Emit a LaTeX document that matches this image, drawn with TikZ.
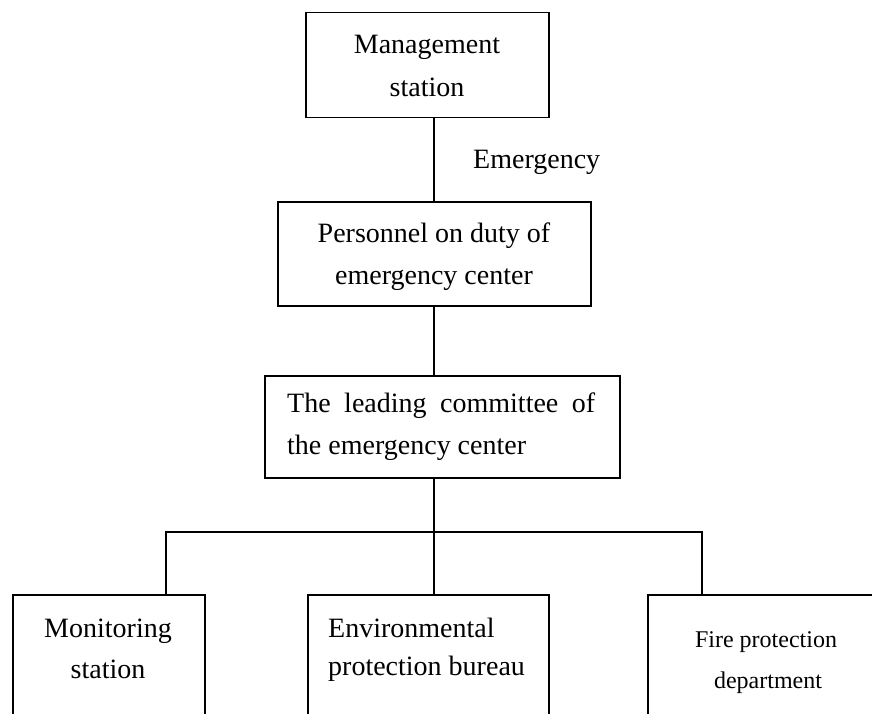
\documentclass[tikz,border=0pt]{standalone}
\usepackage{fontspec}
\setmainfont{Liberation Serif}
\begin{document}
\begin{tikzpicture}[x=1pt,y=-1pt,
  box/.style={draw, line width=1.5pt, rectangle, inner sep=0pt, anchor=north west},
  txt/.style={inner sep=0pt, anchor=base, font=\fontsize{28}{43}\selectfont},
  smalltxt/.style={inner sep=0pt, anchor=base, font=\fontsize{24}{41}\selectfont},
  conn/.style={line width=1.5pt}]
\useasboundingbox (0,0) rectangle (872,714);
\clip (0,0) rectangle (872,714);
% boxes
\node[box, minimum width=243pt, minimum height=105pt] (mgmt) at (305,12) {};
\node[box, minimum width=313pt, minimum height=104pt] (pers) at (277,201) {};
\node[box, minimum width=355pt, minimum height=102pt] (lead) at (264,375) {};
\node[box, minimum width=192pt, minimum height=170pt] (mon) at (12,594) {};
\node[box, minimum width=241pt, minimum height=170pt] (env) at (307,594) {};
\node[box, minimum width=240pt, minimum height=170pt] (fire) at (647,594) {};
% texts
\node[txt, align=center] (mgmtA) at (427,54) {Management};
\node[txt, align=center] (mgmtB) at (427,97) {station};
\node[txt, anchor=base west] (emer) at (473,168) {Emergency};
\node[txt] (persA) at (434,242) {Personnel on duty of};
\node[txt] (persB) at (434,284) {emergency center};
\node[txt, anchor=base west] (leadA) at (287,412) {\makebox[308pt][s]{The leading committee of}};
\node[txt, anchor=base west] (leadB) at (287,454) {the emergency center};
\node[txt] (monA) at (108,637) {Monitoring};
\node[txt] (monB) at (108,678) {station};
\node[txt, anchor=base west] (envA) at (328,637) {Environmental};
\node[txt, anchor=base west] (envB) at (328,675) {protection bureau};
\node[smalltxt] (fireA) at (766,647) {Fire protection};
\node[smalltxt] (fireB) at (768,688) {department};
% connectors
\coordinate (spine) at (434,532);
\coordinate (busL) at (166,532);
\coordinate (busR) at (702,532);
\draw[conn] (spine |- mgmt.south) -- (spine |- pers.north);
\draw[conn] (spine |- pers.south) -- (spine |- lead.north);
\draw[conn] (spine |- lead.south) -- (spine |- env.north);
\draw[conn] (busL |- mon.north) -- (busL) -- (busR) -- (busR |- fire.north);
\end{tikzpicture}
\end{document}
